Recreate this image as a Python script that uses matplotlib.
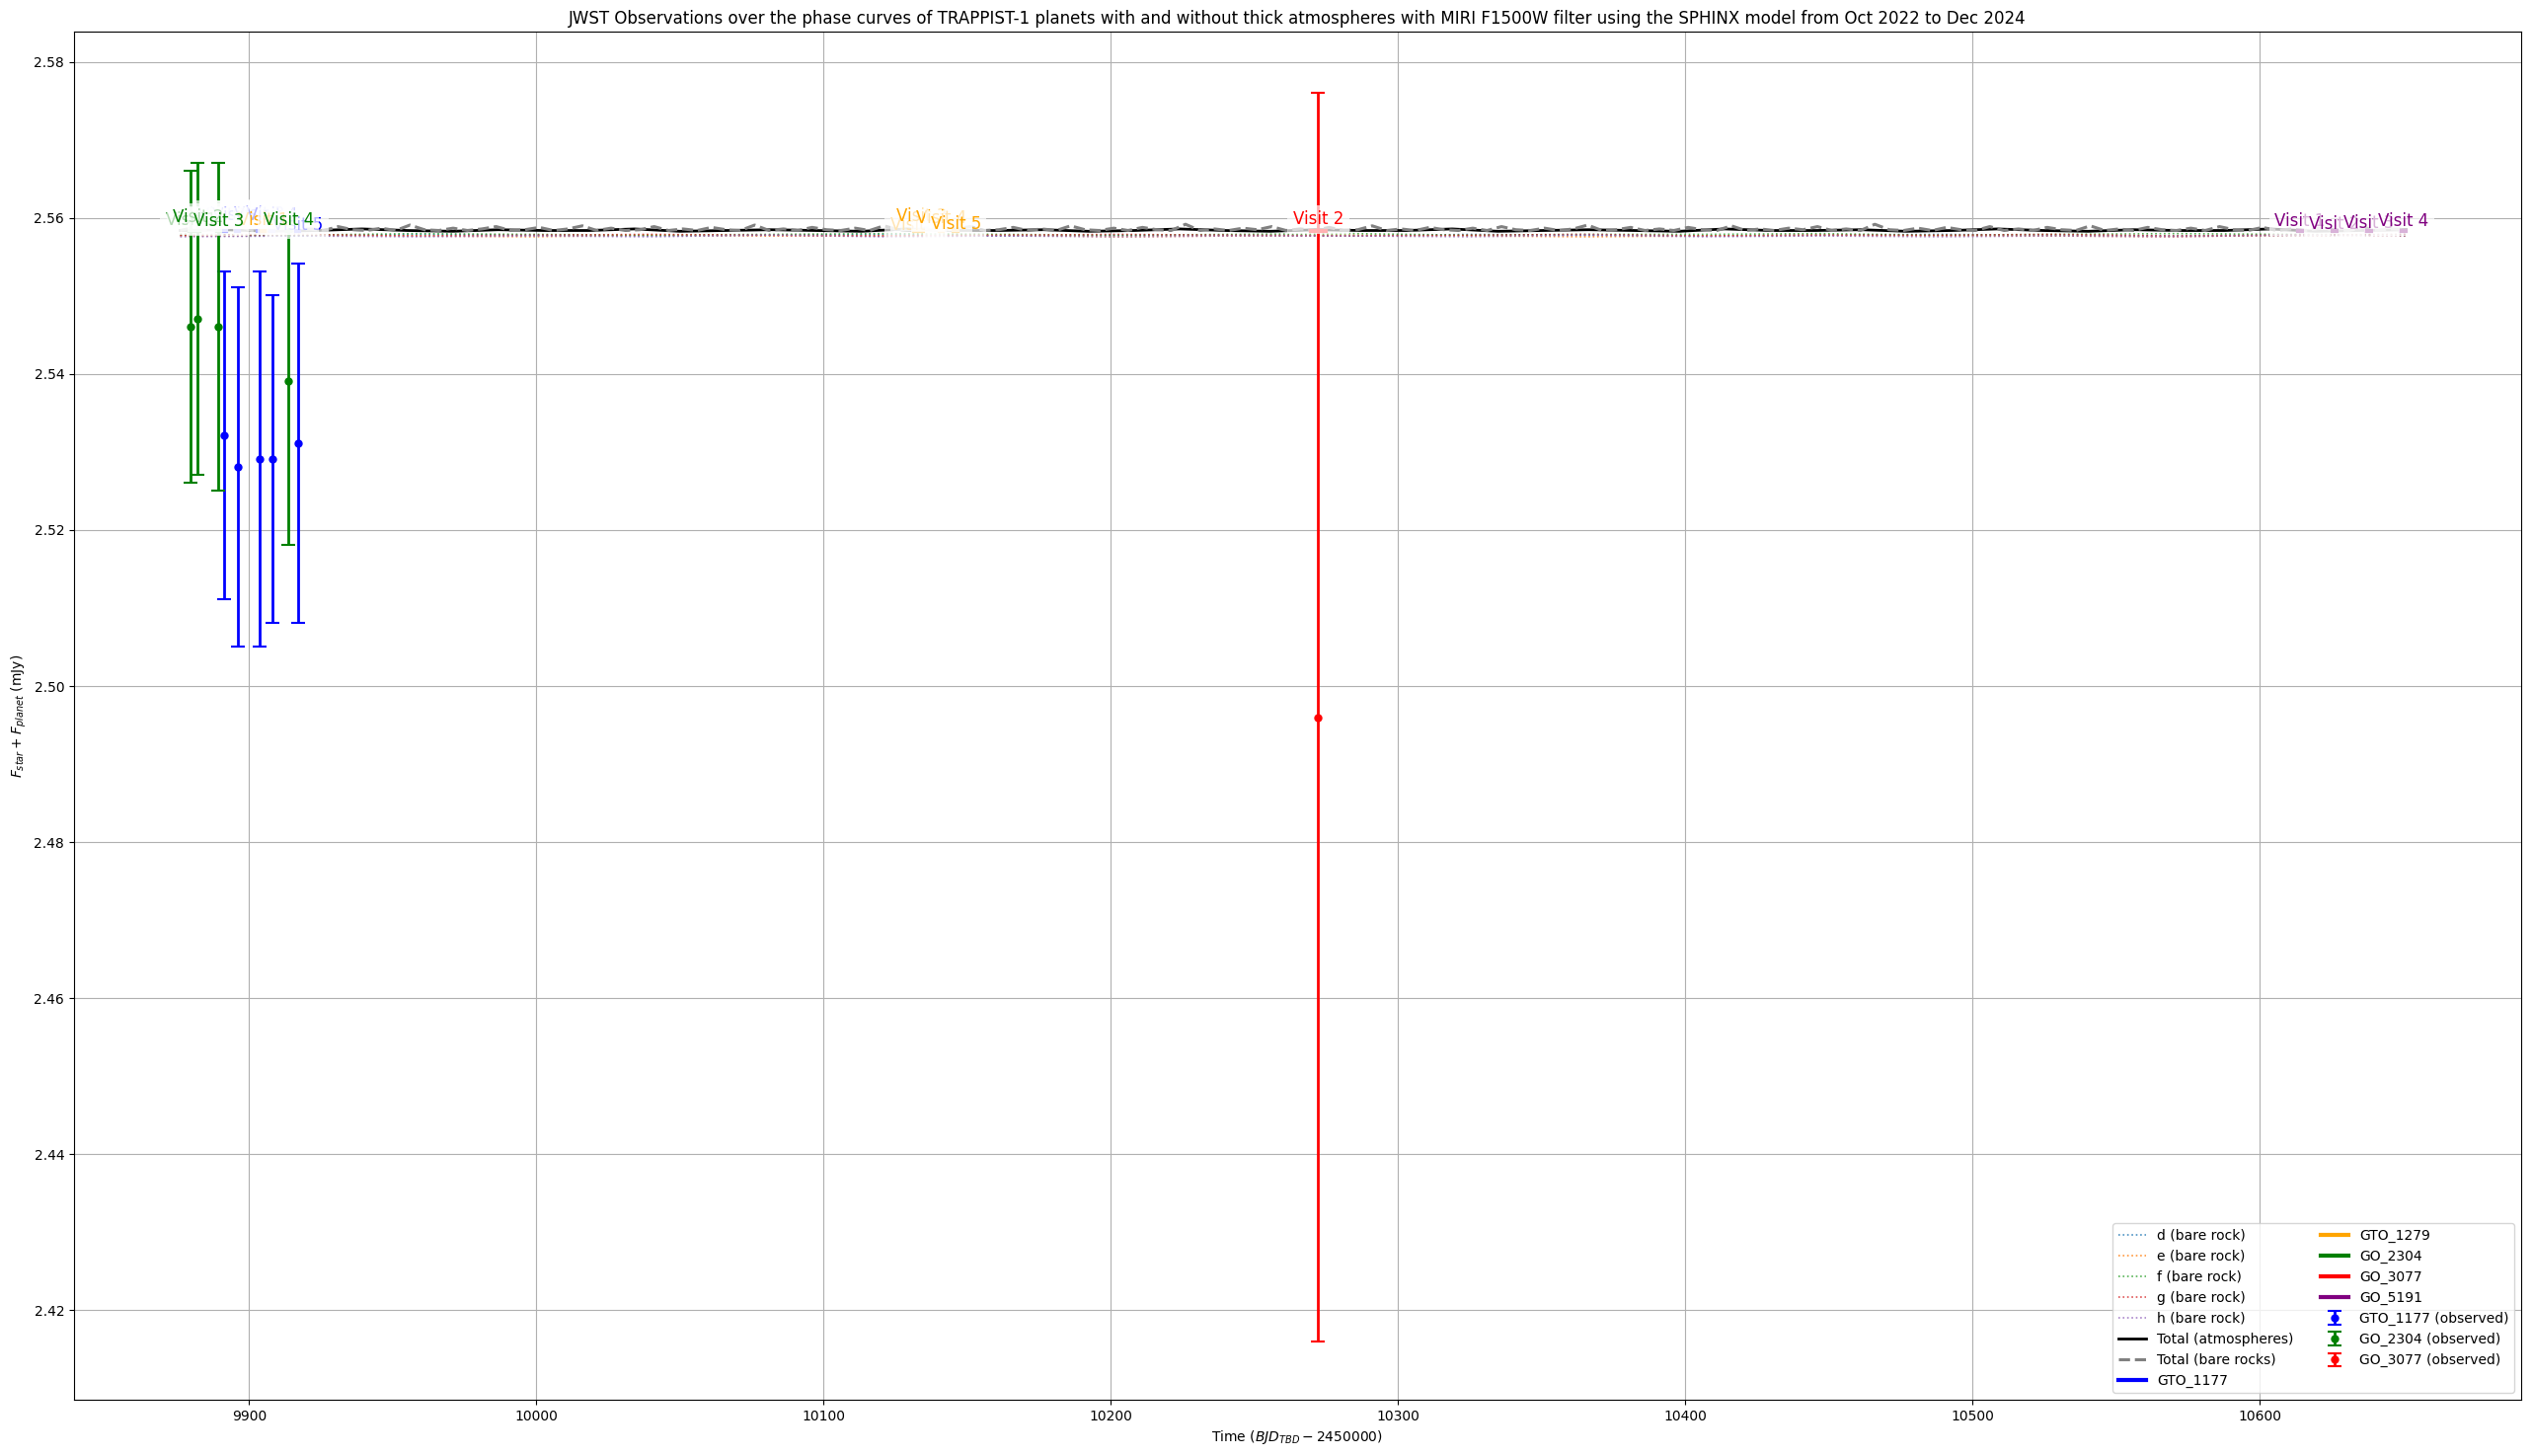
import numpy as np
import matplotlib
matplotlib.use("Agg")
from matplotlib import pyplot as plt

# --- model curves (star + planet flux, mJy) ---
t_start, t_end = 9876, 10651

total_bare = [
    2.5584, 2.5588, 2.5584, 2.5586, 2.5590, 2.5584, 2.5585, 2.5588, 2.5584, 2.5586, 2.5584, 2.5589, 2.5585,
    2.5584, 2.5587, 2.5584, 2.5591, 2.5585, 2.5584, 2.5587, 2.5584, 2.5586, 2.5589, 2.5584, 2.5585, 2.5588,
    2.5584, 2.5586, 2.5590, 2.5584, 2.5587, 2.5584, 2.5585, 2.5589, 2.5584, 2.5586, 2.5584, 2.5588, 2.5585,
    2.5584, 2.5591, 2.5584, 2.5586, 2.5584, 2.5588, 2.5585, 2.5584, 2.5587, 2.5584, 2.5590, 2.5585, 2.5584,
    2.5587, 2.5584, 2.5586, 2.5589, 2.5584, 2.5585, 2.5588, 2.5584, 2.5586, 2.5584, 2.5590, 2.5585, 2.5584,
    2.5587, 2.5584, 2.5588, 2.5585, 2.5584, 2.5592, 2.5584, 2.5586, 2.5584, 2.5587, 2.5585, 2.5589, 2.5584,
    2.5586, 2.5584, 2.5588, 2.5584, 2.5585, 2.5590, 2.5584, 2.5586, 2.5584, 2.5588, 2.5585, 2.5584, 2.5587,
    2.5584, 2.5589, 2.5585, 2.5584, 2.5587, 2.5584, 2.5586, 2.5591, 2.5584, 2.5585, 2.5588, 2.5584, 2.5586,
    2.5584, 2.5588, 2.5585, 2.5584, 2.5590, 2.5584, 2.5586, 2.5584, 2.5587, 2.5585, 2.5589, 2.5584, 2.5586,
    2.5584, 2.5592, 2.5585, 2.5584, 2.5587, 2.5584, 2.5588, 2.5585, 2.5584, 2.5589, 2.5584, 2.5586, 2.5584,
    2.5588, 2.5585, 2.5584, 2.5590, 2.5584, 2.5586, 2.5584, 2.5588, 2.5585, 2.5584, 2.5587, 2.5584, 2.5589,
    2.5585, 2.5584, 2.5588, 2.5584, 2.5586, 2.5584, 2.5587, 2.5585, 2.5584, 2.5588, 2.5584, 2.5586, 2.5585,
]

total_atm = [
    2.5584, 2.5585, 2.5583, 2.5584, 2.5586, 2.5584, 2.5583, 2.5585, 2.5584, 2.5584,
    2.5586, 2.5583, 2.5584, 2.5585, 2.5584, 2.5583, 2.5586, 2.5584, 2.5584, 2.5585,
    2.5583, 2.5584, 2.5586, 2.5584, 2.5583, 2.5585, 2.5584, 2.5584, 2.5586, 2.5583,
    2.5584, 2.5585, 2.5584, 2.5583, 2.5586, 2.5584, 2.5584, 2.5585, 2.5583, 2.5584,
    2.5586, 2.5584, 2.5583, 2.5585, 2.5584, 2.5584, 2.5586, 2.5583, 2.5584, 2.5585,
]

planet_names = ["d", "e", "f", "g", "h"]
planet_bare = [
    [2.5578, 2.5577, 2.5579, 2.5578, 2.5577, 2.5578, 2.5579, 2.5577, 2.5578, 2.5578,
     2.5577, 2.5579, 2.5578, 2.5577, 2.5578, 2.5579, 2.5578, 2.5577, 2.5578, 2.5579],
    [2.5577, 2.5578, 2.5577, 2.5576, 2.5578, 2.5577, 2.5577, 2.5578, 2.5576, 2.5577,
     2.5578, 2.5577, 2.5576, 2.5577, 2.5578, 2.5577, 2.5577, 2.5576, 2.5578, 2.5577],
    [2.5579, 2.5578, 2.5580, 2.5579, 2.5578, 2.5579, 2.5580, 2.5579, 2.5578, 2.5579,
     2.5580, 2.5578, 2.5579, 2.5579, 2.5580, 2.5578, 2.5579, 2.5580, 2.5579, 2.5578],
    [2.5578, 2.5579, 2.5577, 2.5578, 2.5579, 2.5578, 2.5577, 2.5578, 2.5579, 2.5578,
     2.5577, 2.5578, 2.5579, 2.5577, 2.5578, 2.5578, 2.5579, 2.5577, 2.5578, 2.5579],
    [2.5576, 2.5577, 2.5576, 2.5577, 2.5576, 2.5578, 2.5576, 2.5577, 2.5576, 2.5577,
     2.5577, 2.5576, 2.5578, 2.5576, 2.5577, 2.5576, 2.5577, 2.5576, 2.5578, 2.5577],
]
planet_colors = ["C0", "C1", "C2", "C3", "C4"]

# --- JWST programs: visit mid-times, label heights ---
programs = ["GTO_1177", "GTO_1279", "GO_2304", "GO_3077", "GO_5191"]
prog_colors = ["blue", "orange", "green", "red", "purple"]
visit_times = [
    [9891.2, 9896.0, 9903.5, 9908.0, 9916.9],
    [9905.0, 10132.0, 10134.0, 10141.0, 10146.0],
    [9879.7, 9882.1, 9889.3, 9913.7],
    [10272.2],
    [10614.0, 10626.0, 10638.0, 10650.0],
]
visit_label_y = [
    [2.5604, 2.5604, 2.5605, 2.5604, 2.5591],
    [2.5597, 2.5591, 2.5602, 2.5600, 2.5592],
    [2.5597, 2.5601, 2.5596, 2.5597],
    [2.5598],
    [2.5596, 2.5592, 2.5594, 2.5596],
]
visit_numbers = [
    [1, 2, 3, 4, 5],
    [1, 2, 3, 4, 5],
    [1, 2, 3, 4],
    [2],
    [1, 2, 3, 4],
]
visit_halfwidth = [0.6, 0.6, 0.6, 2.5, 0.8]
window_flux = 2.5584

# --- observed points ---
gto1177_t = [9891.2, 9896.0, 9903.5, 9908.0, 9916.9]
gto1177_f = [2.5322, 2.5281, 2.5291, 2.5291, 2.5311]
gto1177_e = [0.021, 0.023, 0.024, 0.021, 0.023]

go2304_t = [9879.7, 9882.1, 9889.3, 9913.7]
go2304_f = [2.5461, 2.5471, 2.5461, 2.5391]
go2304_e = [0.020, 0.020, 0.021, 0.021]

go3077_t = [10272.2]
go3077_f = [2.496]
go3077_e = [0.080]

fig, ax = plt.subplots(figsize=(25.65, 14.75), dpi=100)
fig.subplots_adjust(left=0.0292, right=0.9957, top=0.9783, bottom=0.0386)

for name, vals, c in zip(planet_names, planet_bare, planet_colors):
    ax.plot(np.linspace(t_start, t_end, len(vals)), vals, linestyle=":", lw=1.2,
            color=c, alpha=0.8, label=f"{name} (bare rock)")

ax.plot(np.linspace(t_start, t_end, len(total_atm)), total_atm, color="black", lw=2,
        label="Total (atmospheres)")
ax.plot(np.linspace(t_start, t_end, len(total_bare)), total_bare, color="gray", ls="--", lw=2.2,
        label="Total (bare rocks)")

for prog, c, times, ys, nums, hw in zip(programs, prog_colors, visit_times, visit_label_y,
                                        visit_numbers, visit_halfwidth):
    for k, (t, y, n) in enumerate(zip(times, ys, nums)):
        ax.plot([t - hw, t + hw], [window_flux, window_flux], color=c, lw=3,
                label=prog if k == 0 else None)
        ax.text(t, y, f"Visit {n}", color=c, fontsize=12, ha="center", va="center",
                bbox=dict(facecolor="white", alpha=0.7, edgecolor="none"))

ax.errorbar(gto1177_t, gto1177_f, yerr=gto1177_e, fmt="o", color="blue", markersize=5,
            elinewidth=2, capsize=5, capthick=1.5, label="GTO_1177 (observed)")
ax.errorbar(go2304_t, go2304_f, yerr=go2304_e, fmt="o", color="green", markersize=5,
            elinewidth=2, capsize=5, capthick=1.5, label="GO_2304 (observed)")
ax.errorbar(go3077_t, go3077_f, yerr=go3077_e, fmt="o", color="red", markersize=5,
            elinewidth=2, capsize=5, capthick=1.5, label="GO_3077 (observed)")

ax.set_xlim(9839, 10691)
ax.set_ylim(2.4085, 2.5839)
ax.set_xlabel("Time ($BJD_{TBD} - 2450000$)")
ax.set_ylabel("$F_{star} + F_{planet}$ (mJy)")
ax.set_title("JWST Observations over the phase curves of TRAPPIST-1 planets with and without thick "
             "atmospheres with MIRI F1500W filter using the SPHINX model from Oct 2022 to Dec 2024",
             fontsize=12)
ax.grid(True)
ax.legend(loc="lower right", ncol=2)

fig.savefig("out.png", dpi=100)
